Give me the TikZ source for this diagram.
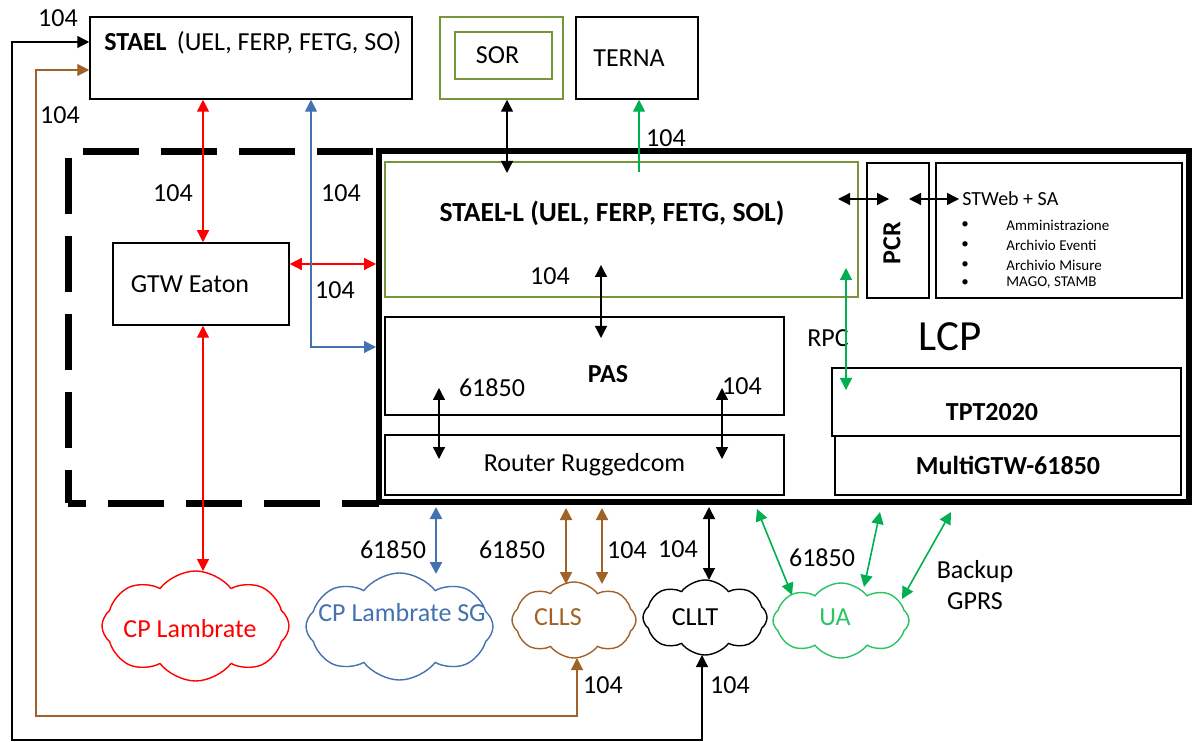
\documentclass[tikz,border=0pt]{standalone}
\usepackage{fontspec}
\setmainfont{Carlito}
\usetikzlibrary{arrows.meta,shapes.symbols}
\definecolor{oliveg}{RGB}{119,147,60}
\definecolor{myred}{RGB}{255,0,0}
\definecolor{myblue}{RGB}{68,114,176}
\definecolor{mybrown}{RGB}{160,98,40}
\definecolor{mygreen}{RGB}{0,176,80}
\definecolor{uagreen}{RGB}{40,196,100}
\tikzset{
  box/.style={draw, line width=0.75pt, inner sep=0pt},
  heavybox/.style={draw, line width=1.3pt, inner sep=0pt},
  onetip/.style={-{Triangle[length=6pt,width=6pt]}},
  twotip/.style={{Triangle[length=6pt,width=6pt]}-{Triangle[length=6pt,width=6pt]}},
  conn/.style={line width=0.65pt},
  lbl/.style={inner sep=0pt},
  cl/.style={cloud, cloud puffs=8, cloud puff arc=105, cloud ignores aspect, draw, line width=0.7pt, inner sep=0pt},
  dashside/.style={line width=3.5pt, dash pattern=on 28pt off 11pt},
}
\begin{document}
\begin{tikzpicture}[x=0.5pt,y=-0.5pt, font=\fontsize{13}{15.5}\selectfont]
\useasboundingbox (0,0) rectangle (1192,742);

% top boxes
\node[box, minimum width=161pt, minimum height=41pt] (stael) at (251,58) {};
\node[lbl, anchor=west] (staelt) at (104,43) {\textbf{STAEL}\, (UEL, FERP, FETG, SO)};
\node[box, draw=oliveg, minimum width=61.5pt, minimum height=41pt] (soro) at (501.5,58) {};
\node[box, draw=oliveg, minimum width=48.5pt, minimum height=23.5pt] (sori) at (503.5,55.5) {SOR\hspace*{6pt}};
\node[box, minimum width=61pt, minimum height=41pt] (terna) at (637,58) {TERNA\hspace*{8pt}};

% LCP and dashed zone
\node[draw, line width=3pt, inner sep=0pt, minimum width=405pt, minimum height=175.5pt] (lcp) at (784,326.5) {};
\draw[dashside] (83,152) -- (379,152);
\draw[dashside] (68,158) -- (68,503);
\draw[dashside, dash phase=9.5pt] (379,503) -- (68,503);

% inside LCP
\node[box, draw=oliveg, minimum width=236.5pt, minimum height=67.5pt] (staell) at (621.5,229.5) {};
\node[lbl, font=\fontsize{13.8}{16}\selectfont] (staellt) at (612,213) {\textbf{STAEL-L (UEL, FERP, FETG, SOL)}};
\node[heavybox, minimum width=31pt, minimum height=67.5pt] (pcr) at (898,230.5) {};
\node[lbl, rotate=90] (pcrt) at (892,243) {\textbf{PCR}};
\node[heavybox, minimum width=123pt, minimum height=67.5pt] (stweb) at (1059,230.5) {};
\node[lbl, anchor=west, font=\fontsize{10}{12}\selectfont] (stwebt) at (962,199) {STWeb + SA};
\foreach \yy/\tt in {225/Amministrazione, 245/Archivio Eventi, 265/Archivio Misure, 283/{MAGO, STAMB}} {
  \node[lbl, font=\fontsize{7.5}{9}\selectfont] at (965,\yy) {•};
  \node[lbl, anchor=west, font=\fontsize{7.5}{9}\selectfont] at (1006,\yy) {\tt};
}
\node[box, minimum width=199.5pt, minimum height=49pt] (pas) at (584.5,366) {};
\node[lbl] (past) at (608,374) {\textbf{PAS}};
\node[box, minimum width=199.5pt, minimum height=30pt] (router) at (584.5,465) {Router Ruggedcom};
\node[box, minimum width=174.5pt, minimum height=34pt] (tpt) at (1006.5,402) {};
\node[lbl] (tptt) at (992,412) {\textbf{TPT2020}};
\node[box, minimum width=173pt, minimum height=29.5pt] (mgtw) at (1008,465.5) {\textbf{MultiGTW-61850}};
\node[lbl, font=\fontsize{21.5}{24}\selectfont] (lcpt) at (950,337) {LCP};
\node[lbl] (rpc) at (828,338) {RPC};

% GTW Eaton
\node[box, minimum width=88pt, minimum height=41pt] (eaton) at (201,284) {GTW Eaton\hspace*{11pt}};

% clouds
\node[cl, draw=myred, minimum width=93.5pt, minimum height=55pt,
  label={[text=myred, xshift=-2.75pt, yshift=-1.5pt]center:CP Lambrate}] (cpl) at (195.5,626) {};
\node[cl, draw=myblue, minimum width=93.5pt, minimum height=53.5pt,
  label={[text=myblue, xshift=1.25pt, yshift=6.75pt]center:CP Lambrate SG}] (cpsg) at (399.5,626.5) {};
\node[cl, draw=mybrown, minimum width=62pt, minimum height=38pt,
  label={[text=mybrown, xshift=-8pt, yshift=1.5pt]center:CLLS}] (clls) at (574,620) {};
\node[cl, draw=black, minimum width=62pt, minimum height=37.5pt,
  label={[xshift=-5pt]center:CLLT}] (cllt) at (705,617.5) {};
\node[cl, draw=uagreen, minimum width=68pt, minimum height=37.5pt,
  label={[text=uagreen, xshift=-3pt, yshift=1.75pt]center:UA}] (ua) at (841,620.5) {};

% free-end coordinates
\coordinate (sorin) at (507,173);
\coordinate (ternain) at (639,172);
\coordinate (slA) at (601,265);
\coordinate (pasA) at (601,338);
\coordinate (pasL) at (439,388);
\coordinate (rtL) at (439,459);
\coordinate (pasR) at (722,388);
\coordinate (rtR) at (722,459);
\coordinate (slH) at (838,199);
\coordinate (pcrH1) at (889,199);
\coordinate (pcrH2) at (909,199);
\coordinate (stwH) at (959,199);
\coordinate (slG) at (846,268);
\coordinate (tptG) at (846,390);
\coordinate (lbBlue) at (436,507);
\coordinate (sgTop) at (436,574);
\coordinate (lbBr1) at (566,508);
\coordinate (lbBr2) at (602,508);
\coordinate (cllsT1) at (566,584);
\coordinate (cllsT2) at (602,584);
\coordinate (lbBk) at (709,507);
\coordinate (clltT) at (709,580);
\coordinate (lbG1) at (757,509);
\coordinate (uaT1) at (792,595);
\coordinate (lbG2) at (880,512);
\coordinate (uaT2) at (864,587);
\coordinate (lbG3) at (951,512);
\coordinate (uaT3) at (902,599);
\coordinate (cllsB) at (577,658);
\coordinate (clltB) at (702,655);

% connectors
\draw[conn, twotip, myred] (stael.south -| 203,0) -- (eaton.north -| 203,0);
\draw[conn, twotip, myred] (eaton.east |- 0,264) -- (lcp.west |- 0,264);
\draw[conn, twotip, myred] (eaton.south -| 203,0) -- (203,571);
\draw[conn, twotip, myblue] (stael.south -| 311,0) |- (lcp.west |- 0,347);
\draw[conn, twotip] (soro.south -| sorin) -- (sorin);
\draw[conn, onetip, mygreen] (ternain) -- (terna.south -| ternain);
\draw[conn, twotip] (slA) -- (pasA);
\draw[conn, twotip] (pasL) -- (rtL);
\draw[conn, twotip] (pasR) -- (rtR);
\draw[conn, twotip] (slH) -- (pcrH1);
\draw[conn, twotip] (pcrH2) -- (stwH);
\draw[conn, twotip, mygreen] (slG) -- (tptG);
\draw[line width=1.2pt, twotip, myblue] (lbBlue) -- (sgTop);
\draw[line width=1pt, twotip, mybrown] (lbBr1) -- (cllsT1);
\draw[line width=1pt, twotip, mybrown] (lbBr2) -- (cllsT2);
\draw[line width=0.8pt, twotip] (lbBk) -- (clltT);
\draw[line width=0.8pt, twotip, mygreen] (lbG1) -- (uaT1);
\draw[line width=0.8pt, twotip, mygreen] (lbG2) -- (uaT2);
\draw[line width=0.8pt, twotip, mygreen] (lbG3) -- (uaT3);
\draw[conn, twotip, mybrown] (cllsB) |- (36,716) |- (stael.west |- 0,70);
\draw[conn, twotip] (clltB) |- (12,740) |- (stael.west |- 0,42);

% labels
\node[lbl] at (58,18) {104};
\node[lbl] at (60,115) {104};
\node[lbl] at (173,193) {104};
\node[lbl] at (341,193) {104};
\node[lbl] at (335,290) {104};
\node[lbl] at (666,138) {104};
\node[lbl] at (550,276) {104};
\node[lbl] at (492,388) {61850};
\node[lbl] at (742,386) {104};
\node[lbl] at (393,550) {61850};
\node[lbl] at (512,550) {61850};
\node[lbl] at (627,550) {104};
\node[lbl] at (678,549) {104};
\node[lbl] at (822,558) {61850};
\node[lbl, align=center] at (975,585) {Backup\\GPRS};
\node[lbl] at (603,685) {104};
\node[lbl] at (730,685) {104};
\end{tikzpicture}
\end{document}
